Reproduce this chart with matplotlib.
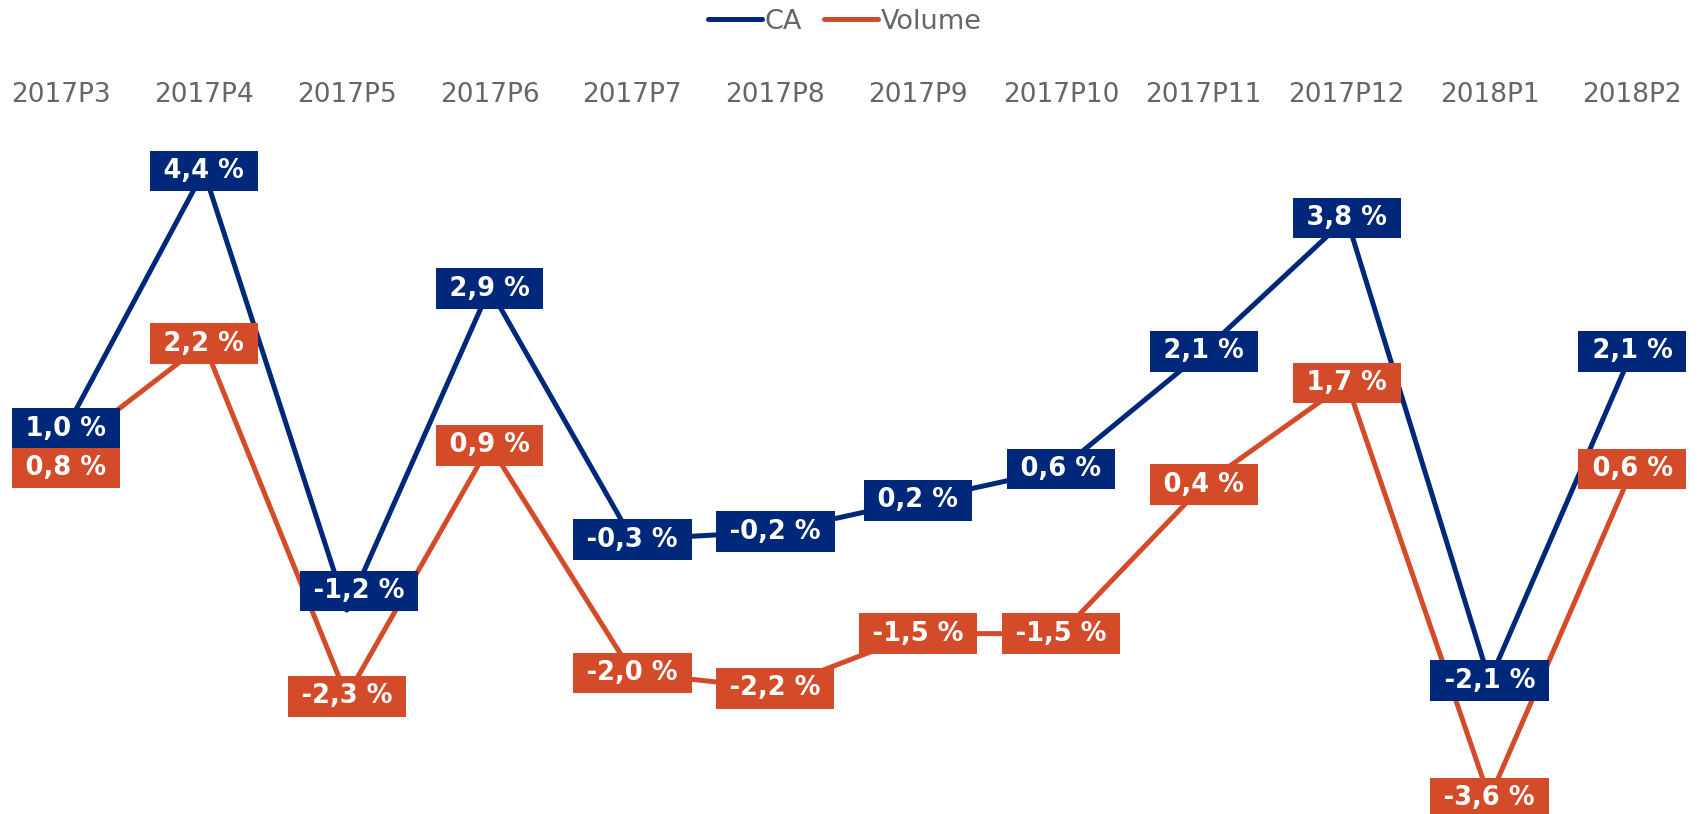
import matplotlib
matplotlib.use("Agg")
import matplotlib.pyplot as plt
import numpy as np

categories = ["2017P3", "2017P4", "2017P5", "2017P6", "2017P7", "2017P8",
              "2017P9", "2017P10", "2017P11", "2017P12", "2018P1", "2018P2"]
ca = [1.0, 4.4, -1.2, 2.9, -0.3, -0.2, 0.2, 0.6, 2.1, 3.8, -2.1, 2.1]
volume = [0.8, 2.2, -2.3, 0.9, -2.0, -2.2, -1.5, -1.5, 0.4, 1.7, -3.6, 0.6]

# label nudges (pixels) where labels were moved to avoid overlaps
ca_label_shift = {0: (5, 9), 2: (12, 19)}
vol_label_shift = {0: (5, -15)}

BLUE = "#00287A"
ORANGE = "#D34B29"
GREY = "#666666"

W, H, DPI = 1700, 814, 100
fig = plt.figure(figsize=(W / DPI, H / DPI), dpi=DPI)
top_px = 125
ax = fig.add_axes([0, 0, 1, (H - top_px) / H])

x = np.arange(len(categories))
l1, = ax.plot(x, ca, color=BLUE, lw=3.6, solid_capstyle="round", zorder=2, label="CA")
l2, = ax.plot(x, volume, color=ORANGE, lw=3.6, solid_capstyle="round", zorder=2, label="Volume")

x0_px, step_px = 61.0, 142.85
ax.set_xlim(-x0_px / step_px, (W - x0_px) / step_px)
zero_px, unit_px = 516, 78.4
ax.set_ylim(-(H - zero_px) / unit_px, (zero_px - top_px) / unit_px)

ax.set_xticks(x)
ax.set_xticklabels(categories)
ax.tick_params(axis="x", top=True, labeltop=True, bottom=False, labelbottom=False,
               length=0, pad=12, labelsize=19, labelcolor=GREY)
ax.set_yticks([])
for s in ax.spines.values():
    s.set_visible(False)

SP = "\u2005"


def fmt(v):
    return SP + f"{v:.1f}".replace(".", ",") + " %" + SP


def labels(vals, color, shifts, z):
    for i, v in enumerate(vals):
        dx, dy = shifts.get(i, (0, 0))
        ax.annotate(fmt(v), (i, v), xytext=(dx * 0.72, dy * 0.72), textcoords="offset points",
                    ha="center", va="center", fontsize=18.5, fontweight="bold", color="white",
                    bbox=dict(boxstyle="square,pad=0.28", fc=color, ec="none"),
                    zorder=z, annotation_clip=False)


labels(ca, BLUE, ca_label_shift, 5)
labels(volume, ORANGE, vol_label_shift, 6)

fig.legend(handles=[l1, l2], loc="upper center", bbox_to_anchor=(0.497, 1.019),
           ncol=2, frameon=False, fontsize=19.5, handlelength=2.0, handletextpad=0.1,
           columnspacing=0.8, labelcolor=GREY)

fig.savefig("out.png", dpi=DPI)
